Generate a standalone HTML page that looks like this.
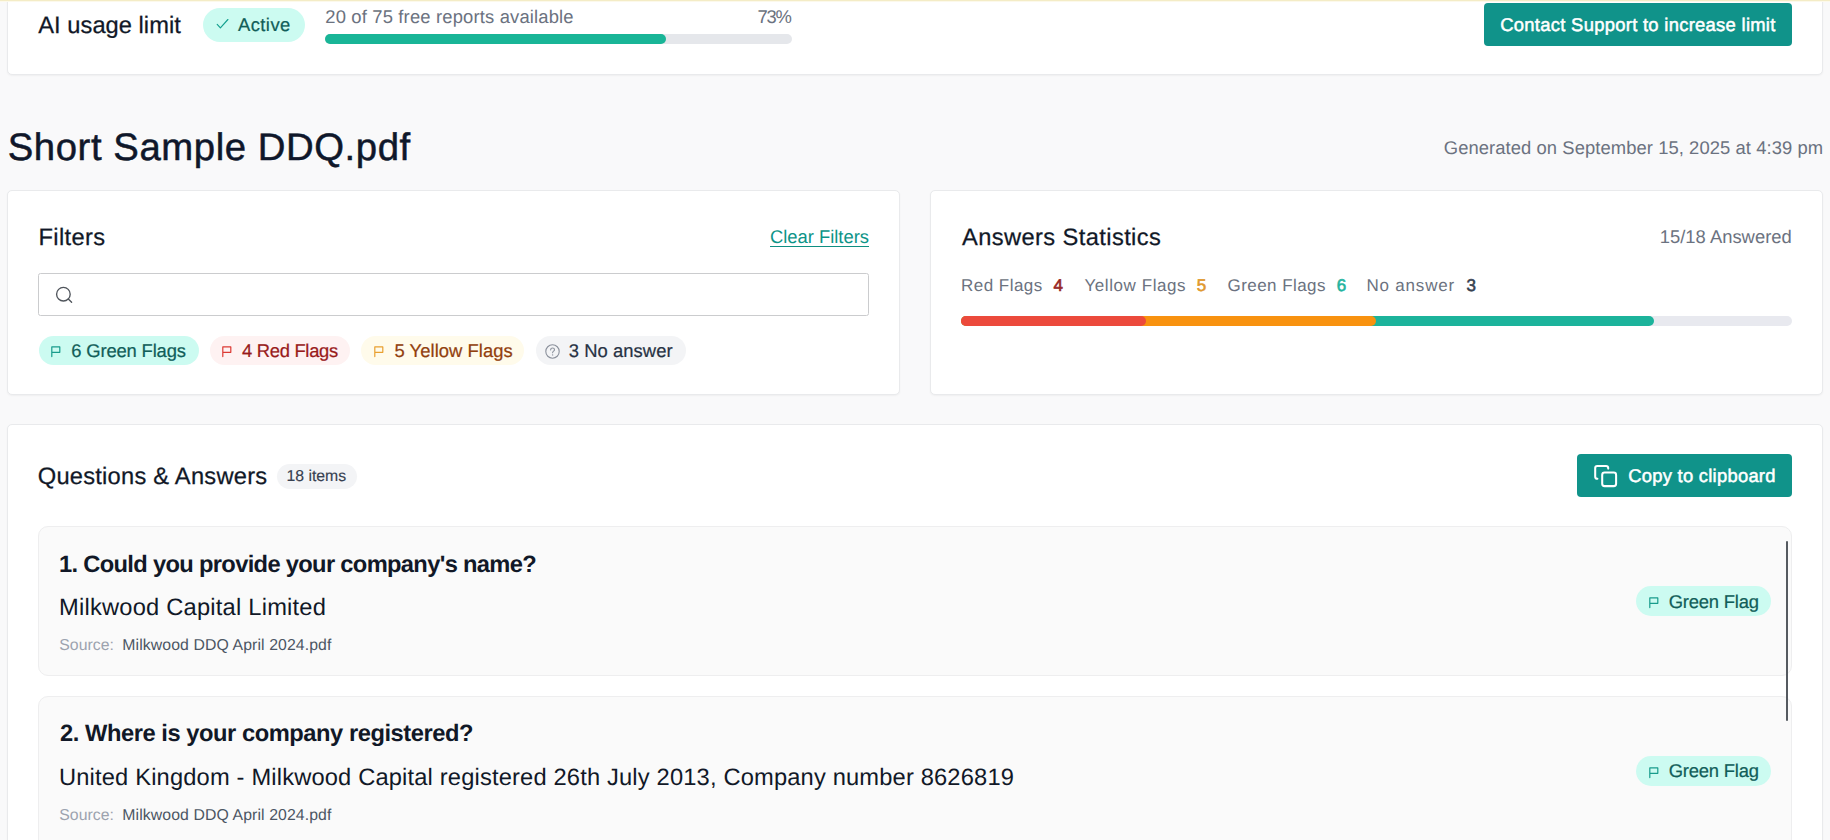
<!DOCTYPE html>
<html>
<head>
<meta charset="utf-8">
<title>Short Sample DDQ.pdf</title>
<style>
*{box-sizing:border-box;margin:0;padding:0}
html,body{width:1830px;height:840px;overflow:hidden}
body{background:#f9f9fa;font-family:"Liberation Sans",sans-serif;color:#111827;position:relative;text-rendering:geometricPrecision}
.abs{position:absolute}
.t{position:absolute;white-space:nowrap;line-height:1}
.card{position:absolute;background:#fff;border:1px solid #e9eaec;border-radius:5px;box-shadow:0 1px 2px rgba(0,0,0,.045)}
.pill{position:absolute;border-radius:999px}
.btn{position:absolute;background:#10938a;border-radius:4px}
svg{position:absolute;overflow:visible}
</style>
</head>
<body>

<!-- ===== top usage card ===== -->
<div class="card" id="c-top" style="left:7px;top:-20px;width:1816px;height:95px;"></div>
<div class="abs" id="topline" style="left:0;top:0;width:1830px;height:2px;background:linear-gradient(#f4ecc6 0,#f4ecc6 1px,#fcf9eb 1px,#fcf9eb 2px)"></div>

<div class="pill" id="p-active" style="left:202.5px;top:8px;width:102px;height:33.5px;background:#ccfbf1"></div>
<svg id="i-check" style="left:216px;top:19px" width="12" height="10" viewBox="0 0 12 10"><path d="M1.2 5.3 L4.4 8.8 L11.9 0.5" fill="none" stroke="#14a08f" stroke-width="1.15" stroke-linecap="round" stroke-linejoin="round"/></svg>

<div class="abs" id="bar1" style="left:325px;top:34px;width:467px;height:10px;border-radius:5px;background:#e5e7eb"></div>
<div class="abs" id="bar1f" style="left:325px;top:34px;width:341px;height:10px;border-radius:5px;background:#19b597"></div>

<div class="btn" id="b-contact" style="left:1484px;top:3px;width:308px;height:43px"></div>

<!-- ===== filters card ===== -->
<div class="card" id="c-filters" style="left:7px;top:190px;width:893px;height:205px;"></div>
<div class="abs" id="u-clear" style="left:770px;top:246px;width:99px;height:1px;background:#0f8f82"></div>
<div class="abs" id="search" style="left:38px;top:273px;width:830.5px;height:43px;border:1px solid #cbccce;border-radius:2.5px;background:#fff"></div>
<svg id="i-search" style="left:55px;top:287px" width="18" height="18" viewBox="0 0 18 18"><circle cx="8.4" cy="7.2" r="6.8" fill="none" stroke="#50555c" stroke-width="1.35"/><path d="M13.3 12 L16.6 15.3" stroke="#50555c" stroke-width="1.35" stroke-linecap="round"/></svg>

<div class="pill" id="p-g" style="left:38.5px;top:336px;width:160px;height:28.5px;background:#ccfbf1"></div>
<div class="pill" id="p-r" style="left:210px;top:336px;width:140px;height:28.5px;background:#fef2f2"></div>
<div class="pill" id="p-y" style="left:361px;top:336px;width:163px;height:28.5px;background:#fffbeb"></div>
<div class="pill" id="p-n" style="left:535.5px;top:336px;width:150px;height:28.5px;background:#f3f4f6"></div>

<!-- flag icons -->
<svg class="flag" style="left:50.5px;top:345.5px" width="10" height="11" viewBox="0 0 10 11"><path d="M0.8 10.6 V0.9 H8.8 V6.3 H0.8" fill="none" stroke="#189c8c" stroke-width="1.2" stroke-linejoin="round" stroke-linecap="round"/></svg>
<svg class="flag" style="left:221.5px;top:345.5px" width="10" height="11" viewBox="0 0 10 11"><path d="M0.8 10.6 V0.9 H8.8 V6.3 H0.8" fill="none" stroke="#dc3a34" stroke-width="1.2" stroke-linejoin="round" stroke-linecap="round"/></svg>
<svg class="flag" style="left:373.5px;top:345.5px" width="10" height="11" viewBox="0 0 10 11"><path d="M0.8 10.6 V0.9 H8.8 V6.3 H0.8" fill="none" stroke="#e9a030" stroke-width="1.2" stroke-linejoin="round" stroke-linecap="round"/></svg>
<svg id="i-q" style="left:544.5px;top:343.5px" width="15" height="15" viewBox="0 0 15 15"><circle cx="7.5" cy="7.5" r="6.7" fill="none" stroke="#8b919c" stroke-width="1.1"/><path d="M5.6 5.9 C5.7 4.6 6.5 4 7.6 4 C8.7 4 9.5 4.7 9.5 5.7 C9.5 7.2 7.6 7.2 7.6 8.8" fill="none" stroke="#8b919c" stroke-width="1.1" stroke-linecap="round"/><circle cx="7.6" cy="10.9" r="0.7" fill="#8b919c"/></svg>

<!-- ===== stats card ===== -->
<div class="card" id="c-stats" style="left:930px;top:190px;width:893px;height:205px;"></div>
<div class="abs" id="bar2" style="left:961px;top:316px;width:831px;height:10px;border-radius:5px;background:#e8e9ef"></div>
<div class="abs" style="left:961px;top:316px;width:692.5px;height:10px;border-radius:5px;background:#1cb39b"></div>
<div class="abs" style="left:961px;top:316px;width:415px;height:10px;border-radius:5px;background:#f8920f"></div>
<div class="abs" style="left:961px;top:316px;width:184.5px;height:10px;border-radius:5px;background:#ec4a3c"></div>

<!-- ===== Q&A card ===== -->
<div class="card" id="c-qa" style="left:7px;top:424px;width:1816px;height:460px;"></div>
<div class="pill" id="p-items" style="left:277px;top:463.5px;width:79.5px;height:25px;background:#f3f4f6"></div>

<div class="btn" id="b-copy" style="left:1577px;top:454px;width:214.5px;height:42.5px"></div>
<svg id="i-copy" style="left:1593px;top:464px" width="25" height="24" viewBox="0 0 25 24" fill="none" stroke="#fff" stroke-width="2.05" stroke-linecap="round" stroke-linejoin="round"><rect x="9.2" y="8.5" width="13.9" height="13.6" rx="2.4"/><path d="M4.4 14.8 C3.1 14.8 2.2 13.9 2.2 12.7 V4.1 C2.2 2.9 3.1 1.9 4.3 1.9 H13 C14.2 1.9 15.2 2.9 15.2 4.1 V4.6"/></svg>

<!-- item 1 -->
<div class="abs" id="q1" style="left:38px;top:526px;width:1753.5px;height:149.5px;background:#fafafa;border:1px solid #eeeeef;border-radius:10px"></div>
<div class="pill" id="p-gf1" style="left:1636px;top:586.3px;width:135px;height:30px;background:#ccfbf1"></div>
<svg class="flag" style="left:1649px;top:597px" width="10" height="11" viewBox="0 0 10 11"><path d="M0.8 10.6 V0.9 H8.8 V6.3 H0.8" fill="none" stroke="#189c8c" stroke-width="1.2" stroke-linejoin="round" stroke-linecap="round"/></svg>

<!-- item 2 -->
<div class="abs" id="q2" style="left:38px;top:695.5px;width:1753.5px;height:170px;background:#fafafa;border:1px solid #eeeeef;border-radius:10px"></div>
<div class="pill" id="p-gf2" style="left:1636px;top:755.7px;width:135px;height:30px;background:#ccfbf1"></div>
<svg class="flag" style="left:1649px;top:766.5px" width="10" height="11" viewBox="0 0 10 11"><path d="M0.8 10.6 V0.9 H8.8 V6.3 H0.8" fill="none" stroke="#189c8c" stroke-width="1.2" stroke-linejoin="round" stroke-linecap="round"/></svg>

<!-- scrollbar thumb -->
<div class="abs" id="scroll" style="left:1785.5px;top:541px;width:2.5px;height:179.5px;background:#555a60;border-radius:1.5px"></div>

<!-- ===== all text ===== -->
<div class="t" id="t-usage" style="left:38.30px;top:15.15px;font-size:23.7px;color:#111827;letter-spacing:0.023px;-webkit-text-stroke:0.25px currentColor;">AI usage limit</div>
<div class="t" id="t-active" style="left:237.90px;top:15.70px;font-size:18.4px;color:#115e59;letter-spacing:0.470px;-webkit-text-stroke:0.22px currentColor;">Active</div>
<div class="t" id="t-reports" style="left:325.30px;top:7.90px;font-size:18.4px;color:#6b7280;letter-spacing:0.164px;">20 of 75 free reports available</div>
<div class="t" id="t-pct" style="left:757.40px;top:7.90px;font-size:18.4px;color:#6b7280;letter-spacing:-1.178px;">73%</div>
<div class="t" id="t-contact" style="left:1500.25px;top:15.61px;font-size:18.4px;color:#fff;letter-spacing:0.292px;-webkit-text-stroke:0.5px #fff;">Contact Support to increase limit</div>
<div class="t" id="t-title" style="left:7.75px;top:128.93px;font-size:38.3px;color:#0f172a;letter-spacing:0.566px;-webkit-text-stroke:0.5px #0f172a;">Short Sample DDQ.pdf</div>
<div class="t" id="t-gen" style="left:1443.75px;top:138.55px;font-size:18.4px;color:#6b7280;letter-spacing:0.075px;">Generated on September 15, 2025 at 4:39 pm</div>
<div class="t" id="t-filters" style="left:38.50px;top:227.15px;font-size:23.7px;color:#111827;letter-spacing:0.352px;-webkit-text-stroke:0.25px currentColor;">Filters</div>
<div class="t" id="t-clear" style="left:770.00px;top:228.12px;font-size:18.4px;color:#0d9488;letter-spacing:-0.014px;">Clear Filters</div>
<div class="t" id="t-cg" style="left:71.25px;top:341.65px;font-size:18.4px;color:#115e59;letter-spacing:-0.153px;-webkit-text-stroke:0.22px currentColor;">6 Green Flags</div>
<div class="t" id="t-cr" style="left:242.00px;top:341.65px;font-size:18.4px;color:#991b1b;letter-spacing:-0.296px;-webkit-text-stroke:0.22px currentColor;">4 Red Flags</div>
<div class="t" id="t-cy" style="left:394.50px;top:341.65px;font-size:18.4px;color:#92400e;letter-spacing:0.048px;-webkit-text-stroke:0.22px currentColor;">5 Yellow Flags</div>
<div class="t" id="t-cn" style="left:568.75px;top:341.65px;font-size:18.4px;color:#273244;letter-spacing:0.063px;-webkit-text-stroke:0.22px currentColor;">3 No answer</div>
<div class="t" id="t-stats" style="left:962.00px;top:227.15px;font-size:23.7px;color:#111827;letter-spacing:0.392px;-webkit-text-stroke:0.25px currentColor;">Answers Statistics</div>
<div class="t" id="t-answered" style="left:1659.75px;top:228.30px;font-size:18.4px;color:#6b7280;letter-spacing:0.006px;">15/18 Answered</div>
<div class="t" id="t-s1" style="left:961.00px;top:277.25px;font-size:17.0px;color:#6b7280;letter-spacing:0.471px;">Red Flags</div>
<div class="t" id="t-s1n" style="left:1053.50px;top:277.25px;font-size:17.0px;color:#97241f;-webkit-text-stroke:0.6px currentColor;">4</div>
<div class="t" id="t-s2" style="left:1084.50px;top:277.25px;font-size:17.0px;color:#6b7280;letter-spacing:0.563px;">Yellow Flags</div>
<div class="t" id="t-s2n" style="left:1196.75px;top:277.25px;font-size:17.0px;color:#e0992e;-webkit-text-stroke:0.6px currentColor;">5</div>
<div class="t" id="t-s3" style="left:1227.50px;top:277.25px;font-size:17.0px;color:#6b7280;letter-spacing:0.446px;">Green Flags</div>
<div class="t" id="t-s3n" style="left:1336.75px;top:277.25px;font-size:17.0px;color:#22b39e;-webkit-text-stroke:0.6px currentColor;">6</div>
<div class="t" id="t-s4" style="left:1366.50px;top:277.25px;font-size:17.0px;color:#6b7280;letter-spacing:0.801px;">No answer</div>
<div class="t" id="t-s4n" style="left:1466.50px;top:277.25px;font-size:17.0px;color:#374151;-webkit-text-stroke:0.6px currentColor;">3</div>
<div class="t" id="t-qa" style="left:37.75px;top:466.20px;font-size:23.7px;color:#111827;letter-spacing:0.234px;-webkit-text-stroke:0.25px currentColor;">Questions &amp; Answers</div>
<div class="t" id="t-items" style="left:286.50px;top:469.10px;font-size:15.8px;color:#374151;letter-spacing:-0.008px;-webkit-text-stroke:0.15px currentColor;">18 items</div>
<div class="t" id="t-copy" style="left:1628.25px;top:467.11px;font-size:18.4px;color:#fff;letter-spacing:0.257px;-webkit-text-stroke:0.5px #fff;">Copy to clipboard</div>
<div class="t" id="t-q1" style="left:59.00px;top:554.15px;font-size:23.7px;color:#111827;font-weight:700;letter-spacing:-0.669px;">1. Could you provide your company's name?</div>
<div class="t" id="t-a1" style="left:59.00px;top:597.15px;font-size:23.7px;color:#111827;letter-spacing:0.215px;">Milkwood Capital Limited</div>
<div class="t" id="t-src1a" style="left:59.25px;top:637.60px;font-size:15.8px;color:#9ca3af;letter-spacing:0.033px;">Source:</div>
<div class="t" id="t-src1b" style="left:122.25px;top:637.60px;font-size:15.8px;color:#4b5563;letter-spacing:0.108px;">Milkwood DDQ April 2024.pdf</div>
<div class="t" id="t-gf1" style="left:1668.75px;top:593.05px;font-size:18.4px;color:#115e59;letter-spacing:-0.197px;-webkit-text-stroke:0.22px currentColor;">Green Flag</div>
<div class="t" id="t-q2" style="left:60.00px;top:722.90px;font-size:23.7px;color:#111827;font-weight:700;letter-spacing:-0.448px;">2. Where is your company registered?</div>
<div class="t" id="t-a2" style="left:59.00px;top:767.15px;font-size:23.7px;color:#111827;letter-spacing:0.164px;">United Kingdom - Milkwood Capital registered 26th July 2013, Company number 8626819</div>
<div class="t" id="t-src2a" style="left:59.25px;top:807.60px;font-size:15.8px;color:#9ca3af;letter-spacing:0.033px;">Source:</div>
<div class="t" id="t-src2b" style="left:122.25px;top:807.60px;font-size:15.8px;color:#4b5563;letter-spacing:0.108px;">Milkwood DDQ April 2024.pdf</div>
<div class="t" id="t-gf2" style="left:1668.75px;top:762.05px;font-size:18.4px;color:#115e59;letter-spacing:-0.197px;-webkit-text-stroke:0.22px currentColor;">Green Flag</div>

</body>
</html>
